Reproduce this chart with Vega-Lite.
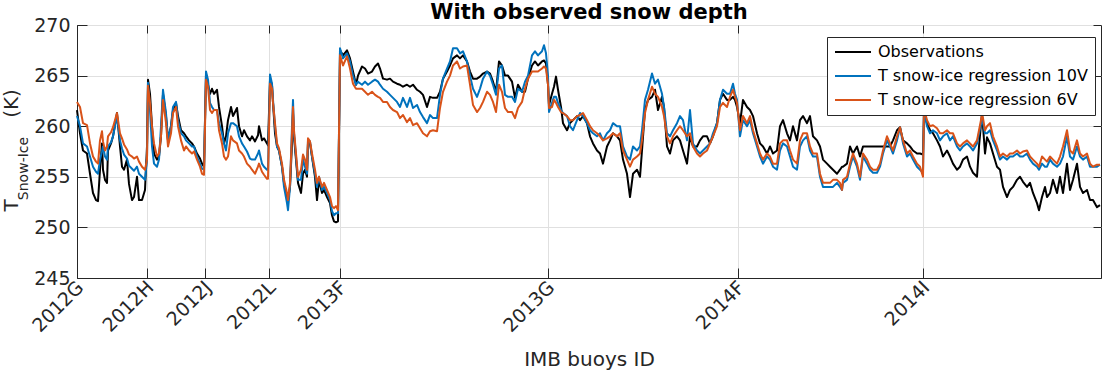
{
"$schema": "https://vega.github.io/schema/vega-lite/v6.json",
"width": 1024, "height": 253,
"autosize": {"type": "none"},
"padding": {"left": 77, "top": 25, "right": 2, "bottom": 95},
"background": "white",
"title": {"text": "With observed snow depth", "fontSize": 21, "fontWeight": "bold", "font": "DejaVu Sans", "color": "#000000", "anchor": "middle", "offset": -7},
"datasets": {"d": [
{"x":0,"o":261.6,"a":261,"b":262.4},{"x":3,"o":259.3,"a":260,"b":261.9},{"x":6,"o":257.6,"a":258.3,"b":260.3},{"x":10,"o":257.3,"a":258,"b":260.1},{"x":13,"o":255.3,"a":257,"b":258.3},{"x":16,"o":253.4,"a":256,"b":257},{"x":19,"o":252.7,"a":255.5,"b":256.5},{"x":21,"o":252.6,"a":255.3,"b":256.3},{"x":23,"o":255.7,"a":256.7,"b":258.6},{"x":25,"o":258.3,"a":257.5,"b":259.5},{"x":26,"o":255.7,"a":258,"b":258.5},{"x":28,"o":254.7,"a":257,"b":257.6},{"x":30,"o":254.4,"a":256.7,"b":258},{"x":31,"o":257.6,"a":258,"b":259},{"x":34,"o":258.3,"a":258.4,"b":259.4},{"x":36,"o":259,"a":259,"b":259.9},{"x":40,"o":261.3,"a":261,"b":261.3},{"x":43,"o":258,"a":258.6,"b":259.3},{"x":45,"o":256,"a":257.8,"b":258.8},{"x":47,"o":255.7,"a":257.2,"b":258.2},{"x":50,"o":256.7,"a":256.8,"b":257.7},{"x":52,"o":254.3,"a":256.1,"b":257.2},{"x":55,"o":252.7,"a":255.8,"b":257},{"x":57,"o":253,"a":255.6,"b":256.8},{"x":60,"o":255,"a":256,"b":257},{"x":62,"o":252.7,"a":255.3,"b":256.5},{"x":65,"o":252.7,"a":255,"b":256},{"x":68,"o":253.7,"a":254.7,"b":255.7},{"x":70,"o":258,"a":256.7,"b":256.7},{"x":71,"o":264.6,"a":264.3,"b":264},
{"x":73,"o":263.2,"a":261.6,"b":262.3},{"x":75,"o":260,"a":258,"b":260},{"x":77,"o":257.3,"a":256.3,"b":258.3},{"x":80,"o":256.7,"a":256,"b":257},{"x":82,"o":257,"a":256.7,"b":257.3},{"x":84,"o":259,"a":260,"b":259},{"x":86,"o":263.2,"a":263.6,"b":262.6},{"x":89,"o":261,"a":261.3,"b":260.3},{"x":91,"o":258.6,"a":258.6,"b":258},{"x":94,"o":260,"a":260,"b":259.3},{"x":96,"o":261.6,"a":261.9,"b":261.3},{"x":99,"o":262.3,"a":262.4,"b":261.9},{"x":101,"o":261,"a":260.6,"b":260},{"x":104,"o":259.6,"a":259.3,"b":258.6},{"x":107,"o":259.3,"a":259,"b":257.6},{"x":109,"o":259,"a":258.6,"b":258},{"x":112,"o":258.6,"a":258.3,"b":257.6},{"x":115,"o":258.3,"a":258,"b":257.3},{"x":117,"o":258,"a":258,"b":257.5},{"x":120,"o":257.3,"a":257,"b":256.7},{"x":123,"o":256.8,"a":256.3,"b":256},{"x":125,"o":256.3,"a":255.8,"b":255.3},{"x":127,"o":256,"a":255.7,"b":255.2},
{"x":129,"o":265.1,"a":265.4,"b":264.6},{"x":131,"o":264.1,"a":264.6,"b":263.9},{"x":133,"o":263.2,"a":262.3,"b":261.6},{"x":135,"o":263.7,"a":261.9,"b":261.3},{"x":137,"o":263.2,"a":261.6,"b":261.6},{"x":140,"o":263.6,"a":261.6,"b":261.6},{"x":142,"o":261.9,"a":260.3,"b":259.6},{"x":145,"o":260,"a":259.3,"b":258.3},{"x":147,"o":258.3,"a":258.3,"b":257},{"x":149,"o":259,"a":257.6,"b":256.7},{"x":151,"o":260.6,"a":259.3,"b":257},{"x":154,"o":261.9,"a":260.3,"b":259},{"x":156,"o":261,"a":260.3,"b":258.6},{"x":160,"o":261.8,"a":260,"b":258.3},{"x":162,"o":260,"a":259,"b":257.6},{"x":165,"o":259,"a":258.3,"b":257.3},{"x":167,"o":259.6,"a":258,"b":257},{"x":170,"o":259,"a":257.5,"b":256.3},{"x":173,"o":258.6,"a":256.8,"b":256},{"x":175,"o":259,"a":256.7,"b":255.7},{"x":178,"o":258.5,"a":256.7,"b":255.3},{"x":181,"o":259.1,"a":257.3,"b":256},{"x":182,"o":260,"a":257.6,"b":256.3},{"x":185,"o":258.6,"a":256.3,"b":255.5},{"x":187,"o":258.8,"a":256,"b":255.2},{"x":190,"o":258.3,"a":255.7,"b":254.8},{"x":191,"o":258.1,"a":255.7,"b":254.8},
{"x":193,"o":264.6,"a":265.1,"b":264.2},{"x":195,"o":264.1,"a":264.2,"b":263.7},{"x":196,"o":262.3,"a":262.6,"b":262.3},{"x":198,"o":259.3,"a":260,"b":260.3},{"x":200,"o":258,"a":258,"b":258.3},{"x":202,"o":257.6,"a":257.6,"b":257.8},{"x":205,"o":256,"a":256,"b":256.3},{"x":207,"o":254.4,"a":254,"b":254.7},{"x":210,"o":253,"a":252.4,"b":253.4},{"x":211,"o":252.7,"a":251.7,"b":252.7},{"x":213,"o":254,"a":254,"b":254.4},{"x":215,"o":258.3,"a":260,"b":259.3},{"x":216,"o":261.3,"a":262.6,"b":261.9},{"x":217,"o":259,"a":259.3,"b":259.6},{"x":219,"o":256.7,"a":257,"b":257.3},{"x":221,"o":254.4,"a":254.7,"b":255},{"x":224,"o":253.4,"a":254.7,"b":255.7},{"x":226,"o":255.3,"a":256.7,"b":257.2},{"x":228,"o":255.7,"a":256,"b":256.7},{"x":230,"o":255,"a":255.3,"b":255.7},{"x":231,"o":258.3,"a":258.6,"b":258.8},{"x":233,"o":258.3,"a":258.5,"b":258.5},{"x":235,"o":257,"a":257,"b":257.3},{"x":238,"o":255,"a":255.3,"b":255.7},{"x":240,"o":252.7,"a":254,"b":254.4},{"x":242,"o":254.7,"a":255,"b":255},{"x":245,"o":253.4,"a":253.7,"b":254},{"x":247,"o":253.7,"a":254,"b":254.4},{"x":250,"o":253,"a":253.4,"b":253.7},{"x":253,"o":252.4,"a":252.7,"b":253},{"x":255,"o":251.2,"a":251.6,"b":252.1},{"x":257,"o":250.6,"a":251.2,"b":251.9},{"x":259,"o":250.5,"a":251.4,"b":252.1},{"x":261,"o":250.6,"a":251.4,"b":251.7},
{"x":263,"o":267.5,"a":267.7,"b":267},{"x":266,"o":267,"a":266.7,"b":266},{"x":270,"o":267.5,"a":267.2,"b":266.9},{"x":273,"o":266.7,"a":266.4,"b":265.7},{"x":276,"o":265.4,"a":265,"b":264.2},{"x":279,"o":264.1,"a":264.1,"b":263.7},{"x":281,"o":265,"a":264.4,"b":263.7},{"x":285,"o":265.9,"a":264.1,"b":263.7},{"x":288,"o":265.7,"a":264.4,"b":263.4},{"x":291,"o":265.2,"a":264.1,"b":263.1},{"x":295,"o":265.4,"a":264.4,"b":263.4},{"x":298,"o":265.9,"a":264.6,"b":263.1},{"x":301,"o":266.2,"a":264.4,"b":262.9},{"x":303,"o":265.7,"a":264.1,"b":262.8},{"x":306,"o":264.7,"a":263.7,"b":262.4},{"x":310,"o":264.6,"a":263.4,"b":262.4},{"x":313,"o":264.7,"a":263.1,"b":261.9},{"x":316,"o":264.4,"a":262.8,"b":261.6},{"x":320,"o":264.2,"a":262.4,"b":261.4},{"x":323,"o":264.1,"a":261.9,"b":260.8},{"x":326,"o":263.9,"a":262.8,"b":261.1},{"x":330,"o":264.1,"a":261.9,"b":260.4},{"x":333,"o":263.9,"a":262.8,"b":260.8},{"x":336,"o":264.1,"a":261.8,"b":260.1},{"x":340,"o":263.6,"a":262.1,"b":260.3},{"x":343,"o":263.4,"a":261.4,"b":259.8},{"x":346,"o":263.1,"a":260.9,"b":259.3},{"x":350,"o":261.9,"a":260.3,"b":259},{"x":353,"o":262.9,"a":261.1,"b":259.5},{"x":356,"o":262.8,"a":260.8,"b":259.6},{"x":360,"o":262.8,"a":260.8,"b":259.5},{"x":363,"o":263.4,"a":263.1,"b":261.8},{"x":366,"o":264.7,"a":264.7,"b":263.4},{"x":370,"o":265.4,"a":265.7,"b":264.4},{"x":373,"o":266,"a":266.4,"b":265},{"x":376,"o":266.7,"a":267.7,"b":266},{"x":380,"o":267,"a":267.7,"b":266.4},{"x":383,"o":266.7,"a":267.2,"b":265.7},{"x":386,"o":267,"a":267.4,"b":265.9},{"x":390,"o":266.4,"a":266.4,"b":266},{"x":393,"o":265.4,"a":265,"b":264.1},{"x":396,"o":264.7,"a":263.7,"b":262.1},{"x":400,"o":264.7,"a":262.9,"b":261.4},{"x":403,"o":264.9,"a":263.7,"b":261.8},{"x":406,"o":265.2,"a":264.7,"b":262.4},{"x":410,"o":265.4,"a":265.4,"b":263.4},{"x":413,"o":265.2,"a":265,"b":263.1},{"x":416,"o":264.4,"a":264.1,"b":262.4},{"x":419,"o":263.4,"a":263.1,"b":261.4},{"x":422,"o":266.4,"a":265.7,"b":264.1},{"x":425,"o":266,"a":266,"b":263.4},{"x":428,"o":265,"a":263.1,"b":261.8},{"x":431,"o":265,"a":262.9,"b":261.4},{"x":435,"o":264.4,"a":262.9,"b":261.4},{"x":438,"o":262.8,"a":262.4,"b":260.8},{"x":441,"o":264.1,"a":263.7,"b":261.8},{"x":445,"o":263.4,"a":263.4,"b":262.4},{"x":448,"o":263.4,"a":264.4,"b":263.7},{"x":451,"o":264.7,"a":265,"b":264.7},{"x":455,"o":266,"a":267,"b":265.4},{"x":458,"o":266.4,"a":267.4,"b":265.4},{"x":461,"o":266,"a":267,"b":265.4},{"x":465,"o":266.4,"a":267.4,"b":265.7},{"x":467,"o":266.5,"a":268,"b":265.9},{"x":469,"o":266.2,"a":267.2,"b":265.7},{"x":471,"o":264.1,"a":265,"b":264.1},{"x":472,"o":262.1,"a":261.4,"b":261.8},
{"x":475,"o":263.2,"a":262.3,"b":261.9},{"x":477,"o":263.9,"a":262.9,"b":262.6},{"x":479,"o":264.9,"a":262.9,"b":262.3},{"x":481,"o":263.6,"a":262.3,"b":261.9},{"x":484,"o":261.9,"a":261.6,"b":261.4},{"x":486,"o":260.3,"a":261.3,"b":261.3},{"x":490,"o":259.6,"a":261,"b":261},{"x":493,"o":260.3,"a":260,"b":260.6},{"x":496,"o":260.6,"a":259.6,"b":260.6},{"x":500,"o":261,"a":260.6,"b":261},{"x":503,"o":260.6,"a":261.3,"b":261.1},{"x":506,"o":261,"a":261,"b":261.3},{"x":510,"o":260.3,"a":260.3,"b":260.6},{"x":513,"o":259,"a":259.6,"b":260},{"x":516,"o":258.3,"a":259.3,"b":259.6},{"x":520,"o":257.6,"a":259,"b":259.3},{"x":523,"o":257.3,"a":259.3,"b":259},{"x":526,"o":256.3,"a":258.6,"b":258.6},{"x":530,"o":258,"a":259.3,"b":258.8},{"x":533,"o":258.6,"a":259.6,"b":259},{"x":536,"o":259.3,"a":260.3,"b":259.3},{"x":540,"o":259,"a":260,"b":259},{"x":543,"o":258.6,"a":260,"b":259.3},{"x":546,"o":256.7,"a":258,"b":257.6},{"x":550,"o":255.3,"a":257,"b":256.7},{"x":553,"o":253,"a":256.7,"b":256},{"x":556,"o":255.3,"a":258,"b":256.7},{"x":560,"o":255.7,"a":257.6,"b":257},{"x":563,"o":255,"a":258,"b":257.3},{"x":565,"o":257.6,"a":259.6,"b":258.6},{"x":568,"o":261.6,"a":262.6,"b":261.3},{"x":571,"o":262.6,"a":263.6,"b":262.6},{"x":575,"o":262.9,"a":265.2,"b":263.9},{"x":578,"o":263.6,"a":264.2,"b":263.2},{"x":581,"o":261.6,"a":264.6,"b":262.9},{"x":585,"o":262.9,"a":263.2,"b":261.9},{"x":587,"o":261.9,"a":261.9,"b":261},{"x":590,"o":258,"a":259.3,"b":259},{"x":593,"o":257.3,"a":259,"b":258.3},{"x":596,"o":258.6,"a":259.6,"b":259},{"x":600,"o":259,"a":260.3,"b":259.6},{"x":603,"o":258.6,"a":261,"b":260},{"x":606,"o":257.6,"a":260.6,"b":259.6},{"x":610,"o":256.3,"a":258.6,"b":259},{"x":613,"o":259,"a":261.6,"b":259.3},{"x":616,"o":258,"a":258.3,"b":258},{"x":620,"o":258,"a":257.6,"b":257.3},{"x":623,"o":258.6,"a":257.3,"b":257},{"x":626,"o":259,"a":257.6,"b":257.3},{"x":630,"o":259,"a":258,"b":257.6},{"x":633,"o":258.3,"a":258.3,"b":258.3},{"x":636,"o":259,"a":259.3,"b":259},{"x":640,"o":260.3,"a":260.3,"b":260},{"x":643,"o":262.6,"a":262.6,"b":261.9},{"x":646,"o":263.2,"a":263.6,"b":262.3},{"x":650,"o":262.6,"a":263.2,"b":261.9},
{"x":653,"o":262.6,"a":263.2,"b":262.9},{"x":656,"o":262.9,"a":264.2,"b":263.6},{"x":658,"o":262.6,"a":263.2,"b":262.9},{"x":660,"o":261.9,"a":262.6,"b":262.3},{"x":663,"o":260.3,"a":259,"b":259.6},{"x":666,"o":262.6,"a":260.6,"b":261},{"x":670,"o":261.9,"a":260,"b":260.3},{"x":673,"o":261.6,"a":260.6,"b":261},{"x":676,"o":261,"a":259.3,"b":259.6},{"x":680,"o":259.3,"a":258,"b":258.3},{"x":683,"o":258.3,"a":257,"b":257.3},{"x":686,"o":258,"a":256.3,"b":256.7},{"x":690,"o":257.3,"a":257,"b":257.3},{"x":693,"o":258,"a":256.7,"b":257},{"x":696,"o":257.3,"a":256,"b":256.3},{"x":700,"o":257.6,"a":255.7,"b":256.3},{"x":703,"o":260,"a":257.6,"b":258.3},{"x":706,"o":260.6,"a":258.3,"b":258.6},{"x":710,"o":259.3,"a":258,"b":258.6},{"x":713,"o":258.6,"a":257,"b":257.6},{"x":716,"o":260,"a":256,"b":256.7},{"x":720,"o":258.6,"a":255.7,"b":256.3},{"x":723,"o":260.6,"a":258,"b":258.6},{"x":726,"o":261,"a":258.6,"b":259.3},{"x":730,"o":260.3,"a":259,"b":259.3},{"x":733,"o":261,"a":257.6,"b":258},{"x":736,"o":259,"a":257,"b":257.3},{"x":740,"o":258.6,"a":257,"b":257.3},{"x":743,"o":258,"a":255,"b":255.3},{"x":746,"o":256.7,"a":254,"b":254.4},{"x":750,"o":256.3,"a":254,"b":254.4},{"x":753,"o":256,"a":254,"b":254.4},{"x":756,"o":255.7,"a":254,"b":254.7},{"x":760,"o":255.3,"a":254.4,"b":254.7},{"x":763,"o":255.7,"a":254,"b":254.4},{"x":765,"o":256,"a":253.7,"b":253.7},{"x":766,"o":256,"a":254.4,"b":254.7},{"x":770,"o":256.3,"a":254.7,"b":255},{"x":773,"o":258,"a":256,"b":256.3},{"x":776,"o":257.3,"a":257,"b":257.3},{"x":780,"o":258,"a":256,"b":256.3},{"x":783,"o":257,"a":254.7,"b":255},{"x":786,"o":258,"a":257,"b":257.3},{"x":790,"o":258,"a":256.3,"b":256.7},{"x":793,"o":258,"a":255.7,"b":256},{"x":796,"o":258,"a":255.4,"b":255.7},{"x":800,"o":258,"a":255.4,"b":255.7},{"x":803,"o":258,"a":256,"b":256.3},{"x":806,"o":258,"a":257.3,"b":257.6},{"x":810,"o":258,"a":258.6,"b":259},{"x":813,"o":258,"a":258,"b":258.3},{"x":816,"o":258.6,"a":257.3,"b":257.6},{"x":820,"o":259.6,"a":258.6,"b":259},{"x":823,"o":259.9,"a":259.9,"b":259.9},{"x":826,"o":258.6,"a":258.3,"b":258.6},{"x":830,"o":258.3,"a":257,"b":257.3},{"x":833,"o":258,"a":257.3,"b":257.6},{"x":836,"o":257.6,"a":256.7,"b":257},{"x":840,"o":257.3,"a":256,"b":256.3},{"x":843,"o":257.3,"a":255.7,"b":256},{"x":846,"o":257.2,"a":255.4,"b":255},
{"x":847,"o":261.5,"a":261.5,"b":261.8},{"x":850,"o":260.3,"a":260,"b":260.6},{"x":853,"o":259.6,"a":259.3,"b":260},{"x":856,"o":259.3,"a":259.6,"b":260.1},{"x":860,"o":258.6,"a":259.3,"b":259.8},{"x":863,"o":258,"a":258.6,"b":259.3},{"x":866,"o":257,"a":259,"b":259.3},{"x":870,"o":257.6,"a":259.3,"b":259.6},{"x":873,"o":257,"a":258.6,"b":259.3},{"x":876,"o":256.3,"a":259,"b":259.3},{"x":880,"o":255.7,"a":258,"b":258.3},{"x":883,"o":256,"a":257.6,"b":258},{"x":886,"o":256.7,"a":258,"b":258.3},{"x":890,"o":257,"a":258.3,"b":258.6},{"x":893,"o":256,"a":258,"b":258.3},{"x":896,"o":255.4,"a":257.6,"b":258},{"x":900,"o":255,"a":258.3,"b":258.6},{"x":902,"o":258,"a":259.3,"b":259.6},{"x":905,"o":261.3,"a":260.6,"b":261.1},{"x":906,"o":260,"a":260.3,"b":260.8},{"x":908,"o":257.3,"a":259.3,"b":259.6},{"x":910,"o":258.9,"a":259.3,"b":260},{"x":913,"o":258.3,"a":259.6,"b":260.3},{"x":916,"o":257.3,"a":258.6,"b":259},{"x":920,"o":256,"a":257.6,"b":258},{"x":923,"o":255.7,"a":256.7,"b":257},{"x":926,"o":254,"a":257,"b":257.3},{"x":930,"o":253,"a":256.7,"b":257},{"x":933,"o":253.7,"a":257,"b":257.3},{"x":936,"o":254,"a":257,"b":257.3},{"x":940,"o":254.7,"a":257.3,"b":257.6},{"x":943,"o":255,"a":257,"b":257.3},{"x":946,"o":254.5,"a":257,"b":257.5},{"x":950,"o":254,"a":257.3,"b":257.6},{"x":953,"o":254.4,"a":256.7,"b":257},{"x":956,"o":253.4,"a":256.3,"b":256.7},{"x":960,"o":252.4,"a":256,"b":256.3},{"x":962,"o":251.7,"a":255.7,"b":256},{"x":965,"o":253,"a":256.3,"b":257},{"x":968,"o":254,"a":256,"b":256.7},{"x":970,"o":253,"a":256,"b":256.5},{"x":973,"o":253.4,"a":256.7,"b":257},{"x":976,"o":254.7,"a":256.3,"b":256.7},{"x":980,"o":253.4,"a":256,"b":256.3},{"x":983,"o":255,"a":256.3,"b":257},{"x":986,"o":253.4,"a":257,"b":258},{"x":990,"o":256.3,"a":259,"b":259.6},{"x":993,"o":253.7,"a":257,"b":257.6},{"x":996,"o":254.7,"a":256.7,"b":257.3},{"x":1000,"o":256.3,"a":258,"b":258.6},{"x":1003,"o":254,"a":257,"b":257.3},{"x":1006,"o":253.4,"a":256.7,"b":257},{"x":1010,"o":253.7,"a":257,"b":257.3},{"x":1013,"o":252.7,"a":256,"b":256.3},{"x":1016,"o":252.7,"a":256,"b":256},{"x":1020,"o":252,"a":256,"b":256.2},{"x":1023,"o":252.2,"a":256.2,"b":256.2}
]},
"data": {"name": "d"},
"transform": [{"fold": ["o", "a", "b"], "as": ["k", "v"]}],
"layer": [
 {"transform": [{"filter": "datum.k == 'o'"}],
  "mark": {"type": "line", "strokeWidth": 2},
  "encoding": {
   "x": {"field": "x", "type": "quantitative", "scale": {"domain": [0, 1024], "nice": false, "zero": false},
     "axis": {"orient": "bottom", "values": [0, 70, 128, 192, 263, 471, 661, 846],
       "labelExpr": "datum.value == 0 ? '2012G' : datum.value == 70 ? '2012H' : datum.value == 128 ? '2012J' : datum.value == 192 ? '2012L' : datum.value == 263 ? '2013F' : datum.value == 471 ? '2013G' : datum.value == 661 ? '2014F' : '2014I'",
       "labelAngle": -45, "labelAlign": "right", "labelBaseline": "middle", "labelFontSize": 19, "labelPadding": 16, "labelOffset": 3, "tickSize": -10,
       "grid": true, "title": "IMB buoys ID", "titleFontSize": 20, "titleX": 512, "titleY": 87, "titleAlign": "center", "titleBaseline": "alphabetic"}},
   "y": {"field": "v", "type": "quantitative", "scale": {"domain": [245, 270], "nice": false, "zero": false},
     "axis": {"orient": "left", "values": [245, 250, 255, 260, 265, 270], "labelFontSize": 19, "labelPadding": 17, "tickSize": -10, "grid": true,
       "title": "T", "titleFontSize": 20, "titleX": -60, "titleY": 180, "titleAngle": 270, "titleAlign": "center", "titleBaseline": "alphabetic"}},
   "color": {"field": "k", "type": "nominal", "scale": {"domain": ["o", "a", "b"], "range": ["#000000", "#0072BD", "#D95319"]},
     "legend": {"title": null, "orient": "none", "legendX": 750, "legendY": 12, "direction": "vertical", "fillColor": "white", "strokeColor": "#262626", "padding": 7, "symbolType": "M-3,0H3", "symbolSize": 144, "symbolOffset": 11, "symbolStrokeWidth": 2, "labelFontSize": 16, "labelFont": "DejaVu Sans", "labelColor": "#000000", "labelLimit": 400, "rowPadding": 8, "labelOffset": 17,
       "labelExpr": "datum.label == 'o' ? 'Observations' : datum.label == 'a' ? 'T snow-ice regression 10V' : 'T snow-ice regression 6V'"}}
  }},
 {"transform": [{"filter": "datum.k == 'a'"}],
  "mark": {"type": "line", "strokeWidth": 2},
  "encoding": {
   "x": {"field": "x", "type": "quantitative", "axis": {"orient": "top", "values": [0, 70, 128, 192, 263, 471, 661, 846], "labels": false, "tickSize": -8, "grid": false, "domain": false, "title": null}},
   "y": {"field": "v", "type": "quantitative", "axis": {"orient": "left", "labels": false, "ticks": false, "domain": false, "grid": false,
       "title": "Snow-Ice", "titleFontSize": 14, "titleX": -50, "titleY": 143, "titleAngle": 270, "titleAlign": "center", "titleBaseline": "alphabetic"}},
   "color": {"field": "k", "type": "nominal", "scale": {"domain": ["o", "a", "b"], "range": ["#000000", "#0072BD", "#D95319"]},
     "legend": {"title": null, "orient": "none", "legendX": 750, "legendY": 12, "direction": "vertical", "fillColor": "white", "strokeColor": "#262626", "padding": 7, "symbolType": "M-3,0H3", "symbolSize": 144, "symbolOffset": 11, "symbolStrokeWidth": 2, "labelFontSize": 16, "labelFont": "DejaVu Sans", "labelColor": "#000000", "labelLimit": 400, "rowPadding": 8, "labelOffset": 17,
       "labelExpr": "datum.label == 'o' ? 'Observations' : datum.label == 'a' ? 'T snow-ice regression 10V' : 'T snow-ice regression 6V'"}}
  }},
 {"transform": [{"filter": "datum.k == 'b'"}],
  "mark": {"type": "line", "strokeWidth": 2},
  "encoding": {
   "x": {"field": "x", "type": "quantitative", "axis": null},
   "y": {"field": "v", "type": "quantitative", "axis": {"orient": "right", "values": [245, 250, 255, 260, 265, 270], "labels": false, "tickSize": -8, "domain": false, "grid": false,
       "title": "(K)", "titleFontSize": 20, "titleX": -1084, "titleY": 78, "titleAngle": 270, "titleAlign": "center", "titleBaseline": "alphabetic"}},
   "color": {"field": "k", "type": "nominal", "scale": {"domain": ["o", "a", "b"], "range": ["#000000", "#0072BD", "#D95319"]},
     "legend": {"title": null, "orient": "none", "legendX": 750, "legendY": 12, "direction": "vertical", "fillColor": "white", "strokeColor": "#262626", "padding": 7, "symbolType": "M-3,0H3", "symbolSize": 144, "symbolOffset": 11, "symbolStrokeWidth": 2, "labelFontSize": 16, "labelFont": "DejaVu Sans", "labelColor": "#000000", "labelLimit": 400, "rowPadding": 8, "labelOffset": 17,
       "labelExpr": "datum.label == 'o' ? 'Observations' : datum.label == 'a' ? 'T snow-ice regression 10V' : 'T snow-ice regression 6V'"}}
  }}
],
"resolve": {"axis": {"x": "independent", "y": "independent"}},
"config": {
 "font": "DejaVu Sans",
 "view": {"stroke": "#262626", "strokeWidth": 1},
 "axis": {"labelFont": "DejaVu Sans", "titleFont": "DejaVu Sans", "labelColor": "#262626", "titleColor": "#262626", "domainColor": "#262626", "tickColor": "#262626", "gridColor": "#e0e0e0", "gridWidth": 1, "domainWidth": 1, "tickWidth": 1, "titleFontWeight": "normal", "labelOverlap": false, "labelFlush": false, "labelBound": false},
 "line": {"strokeJoin": "round"}
}
}
